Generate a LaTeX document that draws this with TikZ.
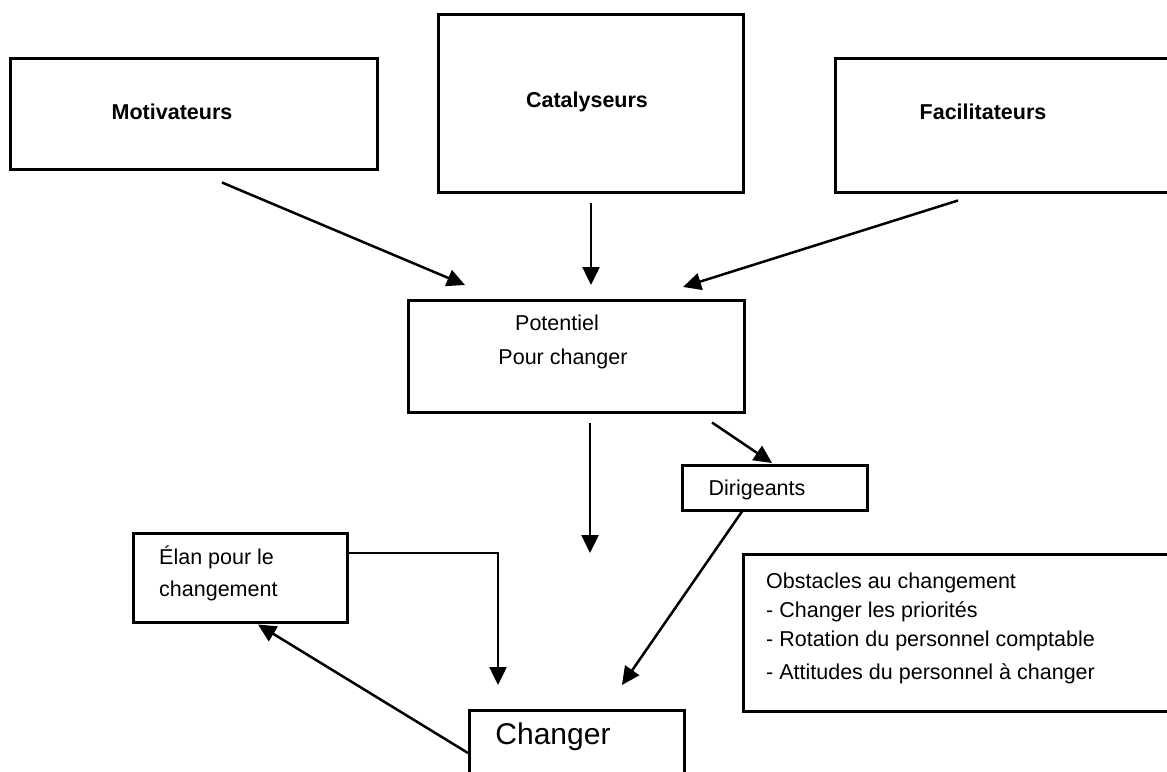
\documentclass[tikz,border=0pt]{standalone}
\usepackage{fontspec}
\setmainfont{Liberation Sans}
\usetikzlibrary{arrows.meta,calc}

\begin{document}
\begin{tikzpicture}[x=1pt,y=-1pt,
    box/.style={draw,line width=2.5pt,anchor=north west,inner sep=0pt},
    txt/.style={font=\fontsize{21.5}{26}\selectfont,inner sep=0pt},
    arr/.style={line width=2.5pt,-{Triangle[length=18pt,width=17pt]}}]
  \useasboundingbox (0,0) rectangle (1167,771);
  \fill[white] (0,0) rectangle (1167,771);
  \clip (0,0) rectangle (1167,771);
  %% boxes
  \node[box,minimum width=367pt,minimum height=111pt] (motiv) at (9,57) {};
  \node[box,minimum width=305pt,minimum height=178pt] (catal) at (437,13) {};
  \node[box,minimum width=345pt,minimum height=134pt] (facil) at (834,57) {};
  \node[box,minimum width=336pt,minimum height=112pt] (potent) at (407,299) {};
  \node[box,minimum width=185pt,minimum height=45pt] (dirig) at (681,464) {};
  \node[box,minimum width=214pt,minimum height=89pt] (elan) at (132,532) {};
  \node[box,minimum width=440pt,minimum height=157pt] (obst) at (742,553) {};
  \node[box,minimum width=215pt,minimum height=90pt] (chang) at (468,709) {};
  %% texts
  \node[txt,font=\fontsize{21.5}{26}\selectfont\bfseries] (tmotiv) at (172,112) {Motivateurs};
  \node[txt,font=\fontsize{21.5}{26}\selectfont\bfseries] (tcatal) at (587,102) {Catalyseurs};
  \node[txt,font=\fontsize{21.5}{26}\selectfont\bfseries] (tfacil) at (983,112) {Facilitateurs};
  \node[txt] (tpot1) at (557,323) {Potentiel};
  \node[txt] (tpot2) at (563,359) {Pour changer};
  \node[txt] (tdirig) at (757,490) {Dirigeants};
  \node[txt,anchor=west] (telan1) at (159,557) {Élan pour le};
  \node[txt,anchor=west] (telan2) at (159,591) {changement};
  \node[txt,anchor=west] (tobst1) at (766,583) {Obstacles au changement};
  \node[txt,anchor=west] (tobst2) at (766,612) {- Changer les priorités};
  \node[txt,anchor=west] (tobst3) at (766,641) {- Rotation du personnel comptable};
  \node[txt,anchor=west] (tobst4) at (766,674) {- Attitudes du personnel à changer};
  \node[txt,font=\fontsize{30}{36}\selectfont] (tchang) at (553,737) {Changer};
  %% connectors
  \coordinate (gap) at (590,553);
  \draw[arr] ($(motiv.south west)+(213,12)$) -- ($(potent.north west)+(58,-14)$);
  \draw[arr] ($(catal.south west)+(154,9)$) -- ($(potent.north west)+(184,-14)$);
  \draw[arr] ($(facil.south west)+(124,7)$) -- ($(potent.north west)+(276,-12)$);
  \draw[arr] ($(potent.south west)+(183,9)$) -- (gap);
  \draw[arr] ($(potent.south west)+(305,9)$) -- ($(dirig.north west)+(91,-1)$);
  \draw[arr] ($(dirig.south west)+(61,0)$) -- ($(chang.north west)+(154,-24)$);
  \draw[arr] ($(elan.north east)+(0,21)$) -| ($(chang.north west)+(30,-24)$);
  \draw[arr] ($(chang.north west)+(0,44)$) -- ($(elan.south west)+(126,1)$);
\end{tikzpicture}
\end{document}
